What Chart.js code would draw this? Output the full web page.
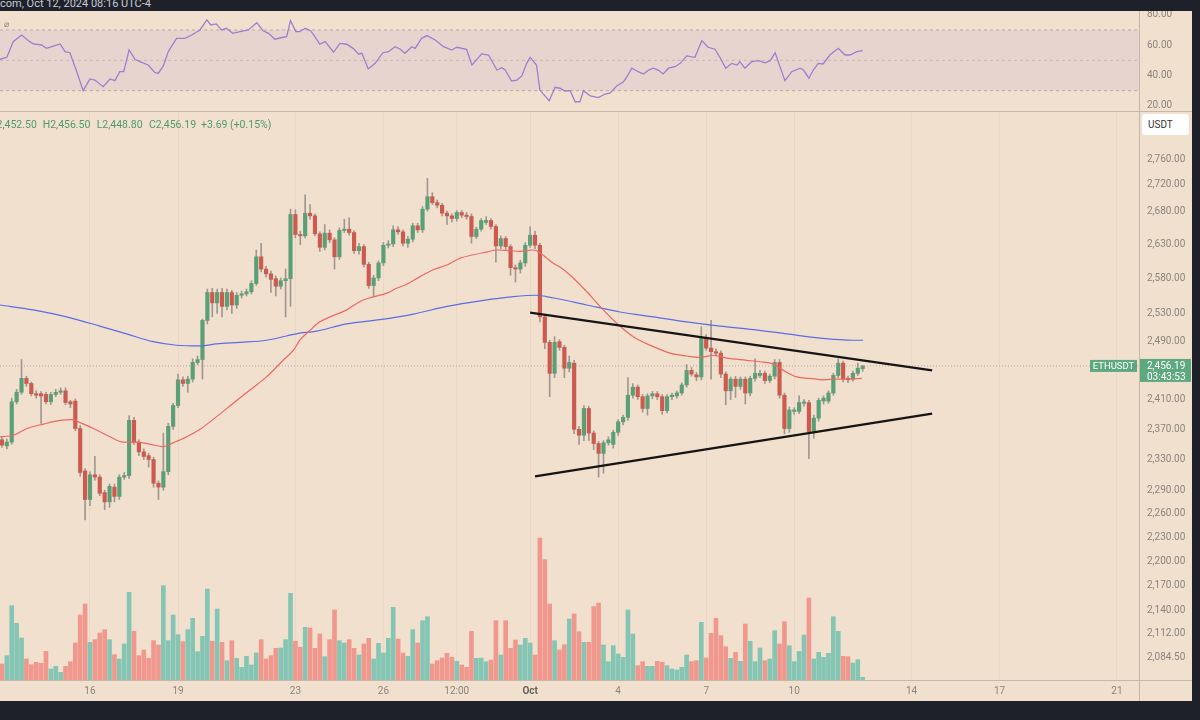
<!DOCTYPE html>
<html lang="en">
<head>
<meta charset="utf-8">
<title>ETHUSDT 4H</title>
<script src="https://cdn.jsdelivr.net/npm/chart.js@4.4.1/dist/chart.umd.min.js"></script>
<style>
  html, body { margin:0; padding:0; }
  body { width:1200px; height:720px; background:#1e212a; position:relative; overflow:hidden; font-family: Roboto, "Liberation Sans", Arial, sans-serif; }
  .abs { position:absolute; }
  #panel { left:0; top:11px; width:1192px; height:690px; background:#f2e0cf; }
  #stamp { left:0; top:-2px; font-size:11px; line-height:11px; color:#c8cbd3; white-space:nowrap; }
  .line { background:#c4b7ab; }
  #legend { left:0; top:118px; height:13px; width:400px; font-size:10.5px; line-height:13px; color:#4f9a6b; }
  #legend span { position:absolute; top:0; white-space:nowrap; }
  #usdt { left:1142px; top:114px; width:47px; height:21px; background:#ffffff; border-radius:3px; font-size:10px; line-height:21px; color:#333; text-indent:6px; }
  #eye { left:4px; top:19px; font-size:9px; line-height:10px; color:#8a837c; }
</style>
</head>
<body>
<div id="panel" class="abs"></div>
<div id="stamp" class="abs">com, Oct 12, 2024 08:16 UTC-4</div>
<canvas id="rsiChart" class="abs" width="1192" height="100" style="left:0;top:11px"></canvas>
<canvas id="mainChart" class="abs" width="1192" height="589" style="left:0;top:112px"></canvas>
<div class="abs line" style="left:0;top:111px;width:1192px;height:1px"></div>
<div class="abs line" style="left:0;top:680px;width:1192px;height:1px"></div>
<div class="abs line" style="left:1139px;top:11px;width:1px;height:690px"></div>
<div id="eye" class="abs">&#8960;</div>
<div id="legend" class="abs"></div>
<div id="usdt" class="abs">USDT</div>
<script>
// ---------- DATA (4h candles, ETHUSDT, from Sep 13 00:00) ----------
const symbol = 'ETHUSDT';
const countdown = '03:43:53';

const open = [
2356,2348,2353,2407,2420,2439,2432,2418,2418,2417,
2407,2417,2420,2422,2407,2408,2371,2315,2278,2310,
2307,2287,2275,2294,2282,2307,2309,2382,2353,2340,
2335,2330,2299,2294,2314,2374,2402,2437,2432,2438,
2461,2465,2520,2560,2545,2560,2540,2560,2542,2556,
2558,2561,2573,2612,2594,2587,2580,2569,2577,2580,
2675,2645,2643,2677,2673,2646,2626,2647,2637,2612,
2651,2653,2648,2621,2627,2601,2570,2581,2603,2629,
2631,2652,2649,2632,2638,2658,2652,2683,2702,2693,
2689,2677,2673,2669,2678,2674,2672,2642,2653,2663,
2666,2657,2628,2639,2627,2596,2594,2603,2629,2644,
2629,2525,2489,2446,2490,2482,2453,2460,2370,2362,
2398,2365,2351,2338,2352,2350,2366,2380,2386,2416,
2427,2414,2398,2415,2418,2414,2395,2414,2415,2419,
2430,2450,2444,2441,2495,2481,2476,2474,2445,2422,
2438,2428,2438,2419,2439,2443,2446,2436,2442,2461,
2416,2371,2394,2394,2405,2406,2367,2385,2408,2408,
2419,2443,2460,2439,2438,2446,2452.5];

const high = [
2360,2357,2412,2424,2465,2442,2434,2422,2421,2420,
2420,2424,2426,2426,2409,2411,2375,2318,2314,2334,
2310,2290,2298,2298,2310,2313,2388,2386,2356,2344,
2338,2333,2302,2365,2378,2405,2445,2441,2442,2466,
2470,2522,2565,2566,2565,2566,2565,2563,2560,2562,
2565,2577,2622,2632,2598,2591,2584,2581,2594,2683,
2682,2650,2705,2690,2676,2649,2660,2652,2640,2655,
2668,2670,2651,2632,2630,2604,2585,2606,2633,2636,
2658,2657,2652,2642,2662,2662,2687,2730,2708,2697,
2692,2680,2676,2681,2681,2678,2676,2656,2669,2672,
2669,2660,2643,2642,2630,2600,2607,2633,2657,2650,
2632,2528,2492,2497,2493,2485,2470,2464,2374,2402,
2401,2368,2354,2355,2360,2369,2383,2389,2440,2432,
2430,2417,2418,2421,2421,2417,2417,2419,2422,2433,
2458,2454,2447,2511,2500,2520,2480,2477,2448,2441,
2442,2441,2441,2442,2466,2450,2449,2445,2465,2465,
2419,2400,2399,2415,2410,2409,2389,2412,2415,2422,
2446,2466,2463,2442,2449,2460,2456.5];

const low = [
2346,2344,2350,2404,2417,2428,2415,2412,2378,2404,
2403,2414,2417,2403,2399,2368,2308,2252,2270,2303,
2283,2265,2268,2275,2278,2304,2305,2350,2335,2330,
2320,2294,2278,2290,2310,2370,2399,2428,2420,2434,
2458,2438,2515,2525,2530,2525,2535,2530,2537,2552,
2555,2558,2570,2590,2582,2560,2555,2565,2525,2540,
2640,2630,2640,2668,2643,2620,2622,2633,2594,2608,
2648,2644,2617,2616,2597,2566,2554,2577,2599,2625,
2627,2645,2628,2626,2634,2648,2648,2680,2690,2685,
2673,2660,2664,2665,2670,2668,2632,2639,2650,2660,
2653,2604,2624,2623,2585,2575,2588,2598,2626,2624,
2518,2480,2414,2440,2478,2440,2448,2364,2350,2355,
2355,2343,2307,2312,2349,2345,2362,2376,2382,2412,
2410,2393,2389,2411,2410,2390,2392,2410,2412,2416,
2427,2442,2436,2437,2478,2438,2470,2440,2403,2410,
2413,2424,2404,2415,2435,2440,2432,2433,2438,2412,
2364,2366,2390,2391,2401,2331,2358,2381,2404,2405,
2416,2440,2434,2433,2435,2443,2448.8];

const close = [
2349,2353,2407,2420,2439,2432,2418,2416,2415,2407,
2417,2420,2422,2406,2404,2371,2313,2278,2310,2307,
2286,2275,2295,2282,2307,2309,2382,2353,2340,2334,
2330,2299,2294,2314,2374,2402,2437,2432,2438,2461,
2465,2520,2560,2545,2560,2540,2560,2542,2556,2558,
2561,2573,2612,2594,2587,2579,2569,2577,2580,2675,
2645,2643,2677,2673,2646,2626,2647,2637,2612,2651,
2653,2648,2621,2627,2601,2570,2581,2603,2629,2631,
2652,2649,2632,2638,2658,2652,2683,2702,2693,2689,
2677,2673,2669,2678,2674,2672,2642,2653,2666,2666,
2657,2628,2639,2627,2596,2594,2603,2629,2644,2629,
2525,2489,2446,2489,2482,2453,2461,2370,2362,2398,
2365,2351,2338,2352,2356,2366,2380,2386,2416,2427,
2414,2398,2415,2418,2414,2395,2414,2416,2419,2430,
2450,2445,2441,2495,2481,2476,2474,2445,2422,2438,
2428,2438,2419,2439,2446,2446,2436,2442,2461,2416,
2371,2396,2396,2406,2407,2367,2385,2409,2412,2419,
2443,2460,2438,2437,2446,2453,2456.19];

const volume = [
48,73,223,170,126,63,46,53,50,86,
33,41,23,41,55,111,195,228,113,121,
141,151,121,76,63,108,263,146,73,90,
65,118,105,283,118,195,136,115,151,185,
85,131,273,116,213,113,58,118,65,38,
71,45,81,121,63,73,95,96,121,260,
116,98,158,156,95,138,70,121,210,118,
111,121,95,75,108,125,63,110,81,125,
218,123,81,71,151,111,178,190,48,58,
66,80,68,56,45,38,146,65,66,55,
60,178,75,178,95,120,105,125,111,75,
426,361,228,118,90,106,183,198,145,113,
113,220,231,105,55,103,78,68,210,138,
43,55,41,41,56,53,43,33,30,38,
75,55,58,173,66,140,185,133,100,65,
83,56,168,116,55,96,58,63,148,108,
175,103,55,86,135,246,63,83,68,80,
190,146,71,70,51,61,8];

// moving averages (x = candle index)
const maShortIdx = [-0.4,2.3,5.1,8.5,11.9,14.3,15.6,18.7,22.1,24.8,27.5,30.3,33.0,35.0,37.8,40.5,43.9,47.3,50.7,54.1,57.5,59.6,60.9,63.0,65.0,67.1,70.5,73.2,75.6,78.7,80.7,82.8,85.5,88.2,91.0,93.7,96.4,99.1,101.2,103.9,105.9,108.7,110.0,111.4,112.8,114.1,116.2,119.6,122.3,125.7,129.1,133.2,136.6,140.0,142.7,145.5,148.2,152.3,155.0,157.7,159.8,162.5,165.2,168.0,170.7,173.4,175.8];
const maShortVal = [2360,2362,2371,2377,2382,2383,2380,2371,2360,2353,2353,2350,2347,2352,2360,2370,2387,2405,2423,2441,2464,2478,2492,2506,2518,2525,2535,2547,2553,2559,2566,2572,2583,2593,2600,2610,2615,2619,2622,2621,2620,2622,2618,2610,2602,2597,2585,2561,2540,2516,2497,2483,2474,2470,2468,2471,2467,2464,2462,2459,2450,2441,2439,2437,2438,2438,2439];
const maLongIdx = [-0.4,6.4,13.2,20.0,25.5,30.9,35.7,40.5,43.9,48.7,54.1,58.2,60.9,63.7,70.5,77.3,84.1,91.0,97.8,104.6,109.3,112.8,119.6,126.4,133.2,140.0,146.8,153.7,160.5,167.3,174.1,176.1];
const maLongVal = [2542,2535,2525,2512,2501,2490,2485,2484,2487,2489,2492,2498,2502,2504,2515,2521,2529,2540,2548,2554,2556,2552,2542,2532,2525,2518,2512,2507,2501,2495,2492,2492];

// RSI
const rsiIdx = [-0.4,1.0,2.3,4.0,5.7,6.4,8.1,9.1,10.2,11.9,12.9,13.9,15.3,16.6,18.0,19.0,20.7,22.1,23.1,24.1,24.9,26.0,27.2,28.2,29.9,31.3,32.0,33.0,34.0,35.7,37.4,38.8,40.5,41.9,42.7,43.8,44.9,45.9,47.2,48.7,50.4,52.1,53.4,54.5,55.8,57.5,58.2,59.0,60.1,60.9,62.0,63.1,64.0,65.0,66.1,67.8,69.1,70.5,71.8,72.9,73.6,74.9,76.3,77.9,79.0,80.4,81.4,82.4,83.8,84.5,85.8,86.9,88.6,90.3,92.0,93.0,95.0,96.1,98.1,99.5,101.2,102.2,102.9,104.2,105.3,106.3,107.3,108.0,109.3,110.0,111.9,113.1,114.1,115.1,116.2,117.2,118.2,118.9,120.3,122.0,123.3,124.3,125.7,127.1,127.8,128.8,130.1,131.2,132.2,133.2,134.2,135.2,136.3,137.6,138.7,140.0,141.7,143.1,144.4,145.8,146.8,148.0,149.2,150.3,150.9,151.9,153.3,154.7,156.0,157.1,158.1,160.1,161.5,163.2,163.9,165.0,165.9,166.9,167.9,169.3,171.0,172.4,173.4,174.8,176.0];
const rsiVal = [50.7,52.0,62.3,66.7,62.3,60.8,60.1,57.9,59.0,60.8,55.7,55.0,42.5,30.0,37.7,37.0,32.6,37.7,36.6,42.5,42.5,56.8,50.7,49.1,46.9,41.9,41.5,46.3,55.7,64.5,64.5,66.7,70.0,76.6,73.3,74.0,70.0,71.1,67.8,68.9,70.0,74.8,69.5,67.8,63.9,65.2,65.6,76.1,68.9,68.9,71.1,69.5,65.6,60.6,62.3,55.3,61.2,60.6,57.9,54.2,54.6,44.3,48.0,55.0,55.7,59.0,57.5,54.6,59.0,57.9,64.5,66.3,63.4,59.0,56.8,58.6,57.3,46.9,54.2,53.5,43.6,45.1,43.6,36.4,37.0,39.7,48.0,52.0,46.9,30.4,23.4,32.2,31.6,29.8,30.0,22.7,22.7,30.0,26.5,25.4,27.8,28.3,33.1,35.9,39.2,44.8,42.5,41.0,43.6,44.8,43.6,41.0,44.8,45.8,48.0,52.9,52.0,62.9,58.6,57.3,52.0,44.8,48.0,46.9,49.1,44.8,49.1,49.8,48.4,49.8,55.0,36.6,42.5,44.8,43.6,38.2,43.6,48.0,47.6,53.5,57.9,53.5,53.5,55.7,56.4];
const rsiLevels = [70, 50, 30];
const rsiTicks = [20, 40, 60, 80];

// drawn triangle trendlines (candle index, price)
const trendUpperIdx = [108.0, 190.2];
const trendUpperPrice = [2531, 2450];
const trendLowerIdx = [109.0, 190.2];
const trendLowerPrice = [2308, 2391];

// axis ticks
const priceTicks = [2760,2720,2680,2630,2580,2530,2490,2410,2370,2330,2290,2260,2230,2200,2170,2140,2112,2084.5];
const dateTickIdx = [18,36,60,78,93,108,126,144,162,186,204,228];
const dateTickLbl = ['16','19','23','26','12:00','Oct','4','7','10','14','17','21'];

// ---------- VIEW ----------
const xMin = -0.4, xMax = 232.5;
const yMin = 2057.7, yMax = 2834.1;
const volMax = 1704;
const rsiMin = 16.6, rsiMax = 82.5;

const UP = '#5b9f76', DOWN = '#cc5a4f';
const VUP = '#84c5b4', VDOWN = '#f0988d';
const WICK = '#a09890';
const AXIS_TXT = '#8a847e';

const fmt2 = v => Number(v).toLocaleString('en-US', {minimumFractionDigits:2, maximumFractionDigits:2});
const N = open.length;
const last = N - 1;
const lastClose = close[last];
const isUp = i => close[i] >= open[i];
const idx = open.map((_, i) => i);

Chart.defaults.font.family = 'Roboto, "Liberation Sans", sans-serif';
Chart.defaults.font.size = 10;

// legend (OHLC of last candle)
(function () {
  const chg = close[last] - open[last];
  const pct = chg / open[last] * 100;
  const parts = [
    ['O' + fmt2(open[last]), -10.7],
    ['H' + fmt2(high[last]), 42.7],
    ['L' + fmt2(low[last]), 96.7],
    ['C' + fmt2(close[last]), 149],
    [(chg >= 0 ? '+' : '') + chg.toFixed(2) + ' (' + (pct >= 0 ? '+' : '') + pct.toFixed(2) + '%)', 201]
  ];
  const lg = document.getElementById('legend');
  parts.forEach(([t, l]) => {
    const s = document.createElement('span');
    s.textContent = t; s.style.left = l + 'px';
    lg.appendChild(s);
  });
})();

const lastPricePlugin = {
  id: 'lastPriceTag',
  afterDraw(chart) {
    const {ctx, chartArea} = chart;
    const py = chart.scales.y.getPixelForValue(lastClose);
    ctx.save();
    ctx.fillStyle = '#5ea880';
    ctx.fillRect(chartArea.right, py - 7, 52, 23);
    ctx.fillRect(chartArea.right - 49, py - 6, 47, 12);
    ctx.fillStyle = '#ffffff';
    ctx.font = '10px Roboto, "Liberation Sans", sans-serif';
    ctx.textBaseline = 'middle';
    ctx.textAlign = 'left';
    ctx.fillText(fmt2(lastClose), chartArea.right + 8, py + 0.5);
    ctx.fillText(countdown, chartArea.right + 8, py + 11.5);
    ctx.textAlign = 'center';
    ctx.font = '9.5px Roboto, "Liberation Sans", sans-serif';
    ctx.fillText(symbol, chartArea.right - 25.5, py + 0.5);
    ctx.restore();
  }
};

new Chart(document.getElementById('mainChart'), {
  type: 'bar',
  data: {
    datasets: [
      { type:'line', label:'Triangle upper', data: trendUpperIdx.map((x,i)=>({x, y:trendUpperPrice[i]})),
        borderColor:'#151515', borderWidth:2.2, pointRadius:0, order:1 },
      { type:'line', label:'Triangle lower', data: trendLowerIdx.map((x,i)=>({x, y:trendLowerPrice[i]})),
        borderColor:'#151515', borderWidth:2.2, pointRadius:0, order:1 },
      { type:'line', label:'MA short', data: maShortIdx.map((x,i)=>({x, y:maShortVal[i]})),
        borderColor:'#ec6862', borderWidth:1.2, pointRadius:0, cubicInterpolationMode:'monotone', order:2 },
      { type:'line', label:'MA long', data: maLongIdx.map((x,i)=>({x, y:maLongVal[i]})),
        borderColor:'#5a6ee2', borderWidth:1.2, pointRadius:0, cubicInterpolationMode:'monotone', order:2 },
      { type:'bar', label:'Body', data: idx.map(i=>({x:i, y:[open[i], close[i]]})),
        backgroundColor: c => isUp(c.dataIndex) ? UP : DOWN, barThickness:3.5, minBarLength:1, grouped:false, borderWidth:0, order:3 },
      { type:'bar', label:'Wick', data: idx.map(i=>({x:i, y:[low[i], high[i]]})),
        backgroundColor: WICK, barThickness:1, grouped:false, borderWidth:0, order:4 },
      { type:'line', label:'Last price', data:[{x:xMin, y:lastClose},{x:xMax, y:lastClose}],
        borderColor:'rgba(110,104,98,0.45)', borderWidth:1, borderDash:[1,2], pointRadius:0, order:5 },
      { type:'bar', label:'Volume', yAxisID:'yv', data: idx.map(i=>({x:i, y:volume[i]})),
        backgroundColor: c => isUp(c.dataIndex) ? VUP : VDOWN, barThickness:4, grouped:false, borderWidth:0, order:6 }
    ]
  },
  options: {
    responsive:false, animation:false, events:[],
    layout:{ padding:0 },
    plugins:{ legend:{display:false}, tooltip:{enabled:false} },
    scales: {
      x: { type:'linear', position:'bottom', min:xMin, max:xMax, bounds:'data', offset:false,
        afterBuildTicks: s => { s.ticks = dateTickIdx.map(v => ({value:v})); },
        afterFit: s => { s.height = 21; s.paddingLeft = 0; s.paddingRight = 0; },
        ticks: { autoSkip:false, maxRotation:0, padding:5,
          callback: (v, i) => dateTickLbl[i],
          color: c => (c.tick && c.tick.label === 'Oct') ? '#67615b' : AXIS_TXT,
          font: c => ({ size:10, weight: (c.tick && c.tick.label === 'Oct') ? 'bold' : 'normal' }) },
        grid: { color:'rgba(90,70,50,0.05)', drawTicks:false, offset:false },
        border: { display:false } },
      y: { type:'logarithmic', position:'right', min:yMin, max:yMax, bounds:'data',
        afterBuildTicks: s => { s.ticks = priceTicks.map(v => ({value:v})); },
        afterFit: s => { s.width = 53; s.paddingTop = 0; s.paddingBottom = 0; },
        ticks: { callback: v => fmt2(v), color:AXIS_TXT, padding:8, autoSkip:false },
        grid: { display:false, drawTicks:false },
        border: { display:false } },
      yv: { type:'linear', display:false, position:'left', min:0, max:volMax }
    }
  },
  plugins:[lastPricePlugin]
});

new Chart(document.getElementById('rsiChart'), {
  type:'line',
  data: {
    datasets: [
      { label:'RSI', data: rsiIdx.map((x,i)=>({x, y:rsiVal[i]})), borderColor:'#9a80d0', borderWidth:1.3, pointRadius:0, tension:0, order:0 },
      { label:'Upper band', data:[{x:xMin,y:rsiLevels[0]},{x:xMax,y:rsiLevels[0]}], borderColor:'rgba(140,125,125,0.5)', borderWidth:1, borderDash:[3,3], pointRadius:0,
        fill:'+2', backgroundColor:'rgba(126,87,194,0.085)', order:1 },
      { label:'Middle', data:[{x:xMin,y:rsiLevels[1]},{x:xMax,y:rsiLevels[1]}], borderColor:'rgba(140,125,125,0.35)', borderWidth:1, borderDash:[3,3], pointRadius:0, fill:false, order:1 },
      { label:'Lower band', data:[{x:xMin,y:rsiLevels[2]},{x:xMax,y:rsiLevels[2]}], borderColor:'rgba(140,125,125,0.5)', borderWidth:1, borderDash:[3,3], pointRadius:0, fill:false, order:1 }
    ]
  },
  options: {
    responsive:false, animation:false, events:[],
    layout:{ padding:0 },
    plugins:{ legend:{display:false}, tooltip:{enabled:false} },
    scales: {
      x: { type:'linear', min:xMin, max:xMax, bounds:'data', display:false },
      y: { position:'right', min:rsiMin, max:rsiMax, bounds:'data',
        afterBuildTicks: s => { s.ticks = rsiTicks.map(v => ({value:v})); },
        afterFit: s => { s.width = 53; s.paddingTop = 0; s.paddingBottom = 0; },
        ticks: { callback: v => Number(v).toFixed(2), color:AXIS_TXT, padding:8 },
        grid: { display:false, drawTicks:false },
        border: { display:false } }
    }
  }
});
</script>
</body>
</html>
